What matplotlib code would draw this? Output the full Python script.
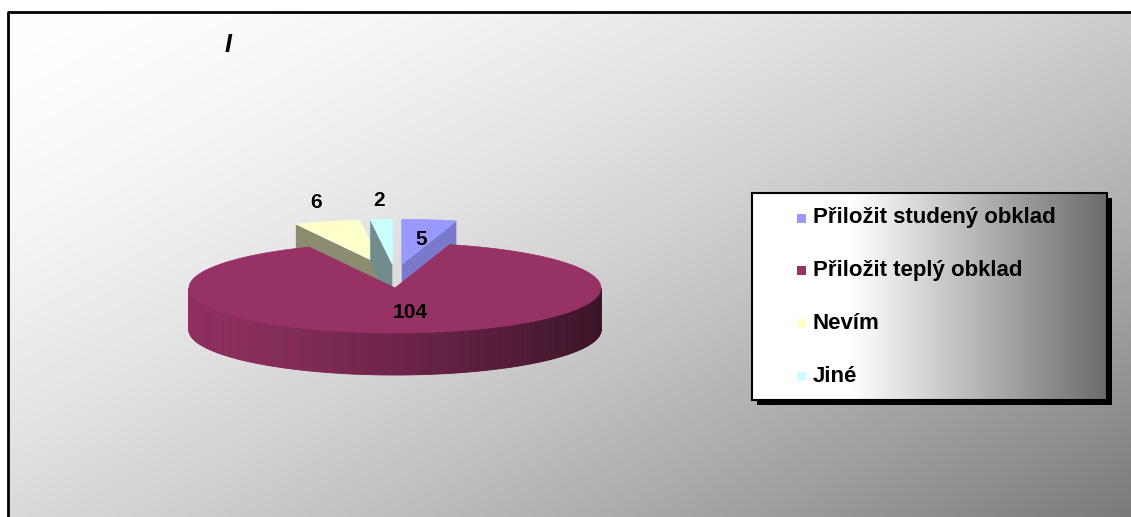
import numpy as np
import matplotlib.pyplot as plt
from matplotlib.patches import Polygon, Rectangle
from matplotlib.colors import to_rgb

# survey answers
categories = ['Přiložit studený obklad', 'Přiložit teplý obklad', 'Nevím', 'Jiné']
counts = [5, 104, 6, 2]
colors = ['#9999ff', '#963264', '#ffffcc', '#ccffff']
exploded = [True, False, True, True]
label_outside = [False, False, True, True]

# pie geometry (pixels)
CX, CY = 395, 288
RX, RY = 206, 45
HEIGHT = 42
EXPLODE = 0.53
EXPLODE_X = 0.46   # squeeze of the sideways pull-out (perspective)

plt.rcParams['font.family'] = ['Liberation Sans', 'DejaVu Sans']

W, H = 1131, 517
fig = plt.figure(figsize=(W / 100, H / 100), dpi=100)
ax = fig.add_axes([0, 0, 1, 1])
ax.set_xlim(0, W)
ax.set_ylim(H, 0)
ax.axis('off')

# chart area: diagonal white -> grey gradient
gx, gy = np.meshgrid(np.linspace(0, 1, 200), np.linspace(0, 1, 100))
shade = 1 - 0.52 * (0.55 * gx + 0.45 * gy) ** 1.6
ax.imshow(np.dstack([shade] * 3), extent=[8, W, H, 12], interpolation='bilinear',
          aspect='auto', zorder=0)
ax.plot([8, 8, W], [H, 12, 12], color='black', lw=2, zorder=1)

ax.text(228, 45, 'I', fontsize=18, fontweight='bold', style='italic',
        ha='center', va='center', zorder=2)


def darker(c, f):
    r, g, b = to_rgb(c)
    return (r * f, g * f, b * f)


def pt(u, b, z, off):
    return (CX + off[0] + RX * u, CY + off[1] - RY * b + HEIGHT * z)


total = sum(counts)
angles = np.cumsum([0] + counts) / total * 2 * np.pi
slices = []
for i in range(len(counts)):
    t1, t2 = angles[i], angles[i + 1]
    tm = (t1 + t2) / 2
    off = (0.0, 0.0)
    if exploded[i]:
        off = (RX * EXPLODE * EXPLODE_X * np.sin(tm), -RY * EXPLODE * np.cos(tm))
    slices.append((i, t1, t2, tm, off))

# back slices first, big one in front last
order = [s for s in slices if exploded[s[0]]] + [s for s in slices if not exploded[s[0]]]
z = 3
for i, t1, t2, tm, off in order:
    col = colors[i]
    ts = np.linspace(t1, t2, max(int((t2 - t1) / 0.01), 4))

    # curved outer side, only the part facing the viewer
    front = ts[np.cos(ts) < 0]
    for a, b in zip(front[:-1], front[1:]):
        u = (np.sin(a) + np.sin(b)) / 2
        f = 0.95 - 0.55 * ((u + 1) / 2) ** 1.3
        quad = [pt(np.sin(a), np.cos(a), 0, off), pt(np.sin(b), np.cos(b), 0, off),
                pt(np.sin(b), np.cos(b), 1, off), pt(np.sin(a), np.cos(a), 1, off)]
        ax.add_patch(Polygon(quad, closed=True, fc=darker(col, f), ec=darker(col, f),
                             lw=0.6, zorder=z))
    z += 1

    # radial cut faces
    if np.sin(t1) < -1e-6:
        quad = [pt(0, 0, 0, off), pt(np.sin(t1), np.cos(t1), 0, off),
                pt(np.sin(t1), np.cos(t1), 1, off), pt(0, 0, 1, off)]
        ax.add_patch(Polygon(quad, closed=True, fc=darker(col, 0.55), ec='none', zorder=z))
    if np.sin(t2) > 1e-6:
        quad = [pt(0, 0, 0, off), pt(np.sin(t2), np.cos(t2), 0, off),
                pt(np.sin(t2), np.cos(t2), 1, off), pt(0, 0, 1, off)]
        ax.add_patch(Polygon(quad, closed=True, fc=darker(col, 0.8), ec='none', zorder=z))
    z += 1

    # top face
    top = [pt(0, 0, 0, off)] + [pt(np.sin(t), np.cos(t), 0, off) for t in ts]
    ax.add_patch(Polygon(top, closed=True, fc=col, ec=col, lw=0.5, zorder=z))
    z += 1

# value labels
for i, t1, t2, tm, off in slices:
    if label_outside[i]:
        x, y = pt(1.2 * np.sin(tm), 1.2 * np.cos(tm), 0, off)
        y -= 10
    else:
        x, y = pt(0.4 * np.sin(tm), 0.55 * np.cos(tm), 0, off)
        x += 8
    ax.text(x, y, str(counts[i]), fontsize=15, fontweight='bold', ha='center',
            va='center', zorder=50)

# legend box with shadow and horizontal gradient
lx, ly, lw_, lh = 752, 193, 355, 207
ax.add_patch(Rectangle((lx + 5, ly + 5), lw_, lh, fc='black', ec='none', zorder=60))
t = np.linspace(0, 1, 300)
g = 1 - 0.58 * np.clip((t - 0.28) / 0.72, 0, 1) ** 1.0
ax.imshow(np.dstack([g[None, :]] * 3), extent=[lx, lx + lw_, ly + lh, ly],
          interpolation='bilinear', aspect='auto', zorder=61)
ax.add_patch(Rectangle((lx, ly), lw_, lh, fc='none', ec='black', lw=1.5, zorder=62))
for k, name in enumerate(categories):
    yy = 218 + k * 52.7
    ax.add_patch(Rectangle((797, yy - 4.5), 9, 9, fc=colors[k], ec='none', zorder=63))
    ax.text(813, yy, name, fontsize=16, fontweight='bold', ha='left', va='center',
            zorder=63)

fig.savefig('out.png', dpi=100)
